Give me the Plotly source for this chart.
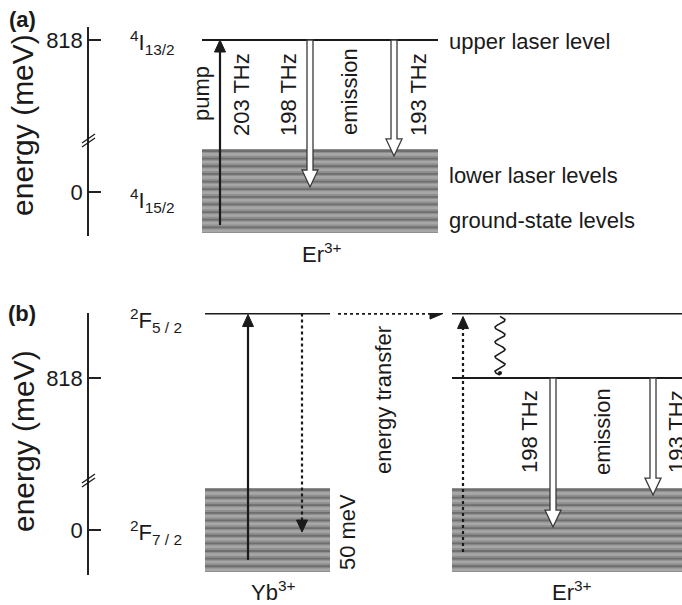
import numpy as np
import plotly.graph_objects as go

W, H = 682, 605
PX = 818 / 152.0          # schematic scale: meV per screen pixel
FONT = "Liberation Sans, Arial, sans-serif"
INK = "#1a1a1a"

# ---------------- data (schematic energies in meV) ----------------
tick_vals = [0, 818]
tick_text = ["0", "818"]

# panel (a): Er3+
a_upper = 818
a_band = (-221, 231)
a_pump_from = -178
a_emis_tips = [27, 194]            # 198 THz, 193 THz
a_emis_labels = ["198 THz", "193 THz"]
a_break = 274
a_range = (-236.8, 888.0)

# panel (b): Yb3+ -> Er3+
b_yb_upper = 1165
b_er_upper = 1165
b_er_lower = 818
b_band = (-226, 226)
b_yb_pump_from = -161
b_yb_relax_to = -11
b_er_up_from = -118
b_wavy = (1150, 834)
b_emis_tips = [16, 188]
b_emis_labels = ["198 THz", "193 THz"]
b_break = 264
b_range = (-242.2, 1168.0)

fig = go.Figure()
shapes, annos = [], []


def line(x0, y0, x1, y1, yref, color=INK, width=2, dash="solid"):
    shapes.append(dict(type="line", xref="x", yref=yref, x0=x0, y0=y0, x1=x1, y1=y1,
                       line=dict(color=color, width=width, dash=dash), layer="above"))


def head(x, tip, yref, up=True, w=5.5, l=12):
    d = l * PX * (-1 if up else 1)
    path = f"M{x-w},{tip+d} L{x},{tip} L{x+w},{tip+d} Z"
    shapes.append(dict(type="path", xref="x", yref=yref, path=path, fillcolor=INK,
                       line=dict(color=INK, width=1), layer="above"))


def hollow(x, y0, tip, yref, hw=3, HW=8, hl=17):
    b = tip + hl * PX
    path = (f"M{x-hw},{y0} L{x+hw},{y0} L{x+hw},{b} L{x+HW},{b} L{x},{tip} "
            f"L{x-HW},{b} L{x-hw},{b} Z")
    shapes.append(dict(type="path", xref="x", yref=yref, path=path, fillcolor="white",
                       line=dict(color="#3a3a3a", width=1.3), layer="above"))


def band(x0, x1, lo, hi, ax):
    shapes.append(dict(type="rect", xref="x", yref=ax, x0=x0, x1=x1, y0=lo, y1=hi,
                       fillcolor="#8f8f8f", line=dict(width=0), layer="below"))
    n = 11
    ys = np.linspace(lo, hi, n + 1)
    lx, ly, dx, dy = [], [], [], []
    for i in range(n):
        yl = ys[i] + (ys[i + 1] - ys[i]) * 0.3
        yd = ys[i] + (ys[i + 1] - ys[i]) * 0.75
        lx += [x0, x1, None]; ly += [yl, yl, None]
        dx += [x0, x1, None]; dy += [yd, yd, None]
    fig.add_trace(go.Scatter(x=lx, y=ly, mode="lines", yaxis=ax, hoverinfo="skip",
                             line=dict(color="#a7a7a7", width=2.6), showlegend=False))
    fig.add_trace(go.Scatter(x=dx, y=dy, mode="lines", yaxis=ax, hoverinfo="skip",
                             line=dict(color="#6e6e6e", width=1.8), showlegend=False))


def text(x, y, s, yref, size=22, angle=0, xa="center", ya="middle", bold=False):
    annos.append(dict(x=x, y=y, xref="x", yref=yref, text=(f"<b>{s}</b>" if bold else s),
                      showarrow=False, textangle=angle, xanchor=xa, yanchor=ya,
                      font=dict(family=FONT, size=size, color=INK)))


def ptext(x, py, s, size=22, angle=0, xa="center", bold=False):
    # label placed in paper space (outside the energy ranges)
    annos.append(dict(x=x, y=1 - py / H, xref="x", yref="paper",
                      text=(f"<b>{s}</b>" if bold else s), showarrow=False,
                      textangle=angle, xanchor=xa, yanchor="middle",
                      font=dict(family=FONT, size=size, color=INK)))


def brk(ybrk, yref):
    for off in (0, 4):
        line(82, ybrk - (6 - off) * PX, 95, ybrk + (3 + off) * PX, yref, width=1.3)

# ---------------- panel (a) ----------------
band(202, 438, a_band[0], a_band[1], "y")
line(202, a_upper, 438, a_upper, "y")
line(220, a_pump_from, 220, a_upper - 8 * PX, "y", width=2.2)
head(220, a_upper, "y", up=True)
for xx, tip in zip([310, 394], a_emis_tips):
    hollow(xx, a_upper, tip, "y")
brk(a_break, "y")
ptext(22, 19, "(a)", size=22, bold=True)
text(23, 361, "energy (meV)", "y", size=30, angle=-90)
text(128, 804, "<sup>4</sup>I<sub>13/2</sub>", "y", xa="left")
text(128, -45, "<sup>4</sup>I<sub>15/2</sub>", "y", xa="left")
text(201, 527, "pump", "y", angle=-90)
text(241, 522, "203 THz", "y", angle=-90)
text(288, 522, a_emis_labels[0], "y", angle=-90)
text(349, 538, "emission", "y", angle=-90)
text(418, 522, a_emis_labels[1], "y", angle=-90)
text(447, 808, "upper laser level", "y", xa="left")
text(447, 91, "lower laser levels", "y", xa="left")
text(447, -151, "ground-state levels", "y", xa="left")
ptext(322, 253, "Er<sup>3+</sup>")

# ---------------- panel (b) ----------------
band(205, 330, b_band[0], b_band[1], "y2")
band(452, 682, b_band[0], b_band[1], "y2")
line(205, b_yb_upper, 330, b_yb_upper, "y2")
line(452, b_er_upper, 682, b_er_upper, "y2")
line(452, b_er_lower, 682, b_er_lower, "y2")
line(248, b_yb_pump_from, 248, b_yb_upper - 8 * PX, "y2", width=2.2)
head(248, b_yb_upper - 1 * PX, "y2", up=True)
line(302, b_yb_upper, 302, b_yb_relax_to + 8 * PX, "y2", width=2.2, dash="dot")
head(302, b_yb_relax_to, "y2", up=False)
line(338, b_yb_upper, 432, b_yb_upper, "y2", width=2.2, dash="dot")
shapes.append(dict(type="path", xref="x", yref="y2",
                   path=f"M430,{b_yb_upper+5.5*PX} L443,{b_yb_upper} L430,{b_yb_upper-5.5*PX} Z",
                   fillcolor=INK, line=dict(color=INK, width=1), layer="above"))
line(463, b_er_up_from, 463, b_er_upper - 11 * PX, "y2", width=2.2, dash="dot")
head(463, b_er_upper - 3 * PX, "y2", up=True)
# wavy non-radiative relaxation (decorative squiggle)
tw = np.linspace(0, 1, 160)
wy = b_wavy[0] + (b_wavy[1] - b_wavy[0]) * tw
wx = 500 + 5 * np.sin(2 * np.pi * 4 * tw)
fig.add_trace(go.Scatter(x=wx, y=wy, mode="lines", yaxis="y2", hoverinfo="skip",
                         line=dict(color=INK, width=1.6), showlegend=False))
fig.add_trace(go.Scatter(x=[500], y=[b_wavy[1] + 2 * PX], mode="markers", yaxis="y2",
                         hoverinfo="skip", marker=dict(color=INK, size=4), showlegend=False))
for xx, tip in zip([553, 653], b_emis_tips):
    hollow(xx, b_er_lower, tip, "y2")
brk(b_break, "y2")
text(22, 1168, "(b)", "y2", size=22, bold=True)
text(23, 479, "energy (meV)", "y2", size=30, angle=-90)
text(128, 1130, "<sup>2</sup>F<sub>5 / 2</sub>", "y2", xa="left")
text(128, -16, "<sup>2</sup>F<sub>7 / 2</sub>", "y2", xa="left")
text(347, -11, "50 meV", "y2", angle=-90)
ptext(273, 591, "Yb<sup>3+</sup>")
text(384, 700, "energy transfer", "y2", angle=-90)
text(529, 527, b_emis_labels[0], "y2", angle=-90)
text(602, 527, "emission", "y2", angle=-90)
text(676, 527, b_emis_labels[1], "y2", angle=-90)
ptext(572, 591, "Er<sup>3+</sup>")

axis_common = dict(anchor="free", position=88 / W, showline=True, linecolor="#222",
                   linewidth=1.5, tickvals=tick_vals, ticktext=tick_text, ticks="inside",
                   ticklen=12, tickwidth=1.5, tickcolor="#222", showgrid=False,
                   zeroline=False, fixedrange=True, automargin=False,
                   tickfont=dict(family=FONT, size=22, color=INK))

fig.update_layout(
    width=W, height=H, autosize=False, margin=dict(l=0, r=0, t=0, b=0),
    paper_bgcolor="white", plot_bgcolor="rgba(0,0,0,0)", showlegend=False,
    xaxis=dict(range=[0, W], domain=[0, 1], visible=False, fixedrange=True),
    yaxis=dict(domain=[1 - 236 / H, 1 - 27 / H], range=list(a_range), **axis_common),
    yaxis2=dict(domain=[1 - 575 / H, 1 - 313 / H], range=list(b_range), **axis_common),
    shapes=shapes, annotations=annos,
)
fig.write_html("out.html", config={"displayModeBar": False},
               post_script="document.body.style.margin='0';")
